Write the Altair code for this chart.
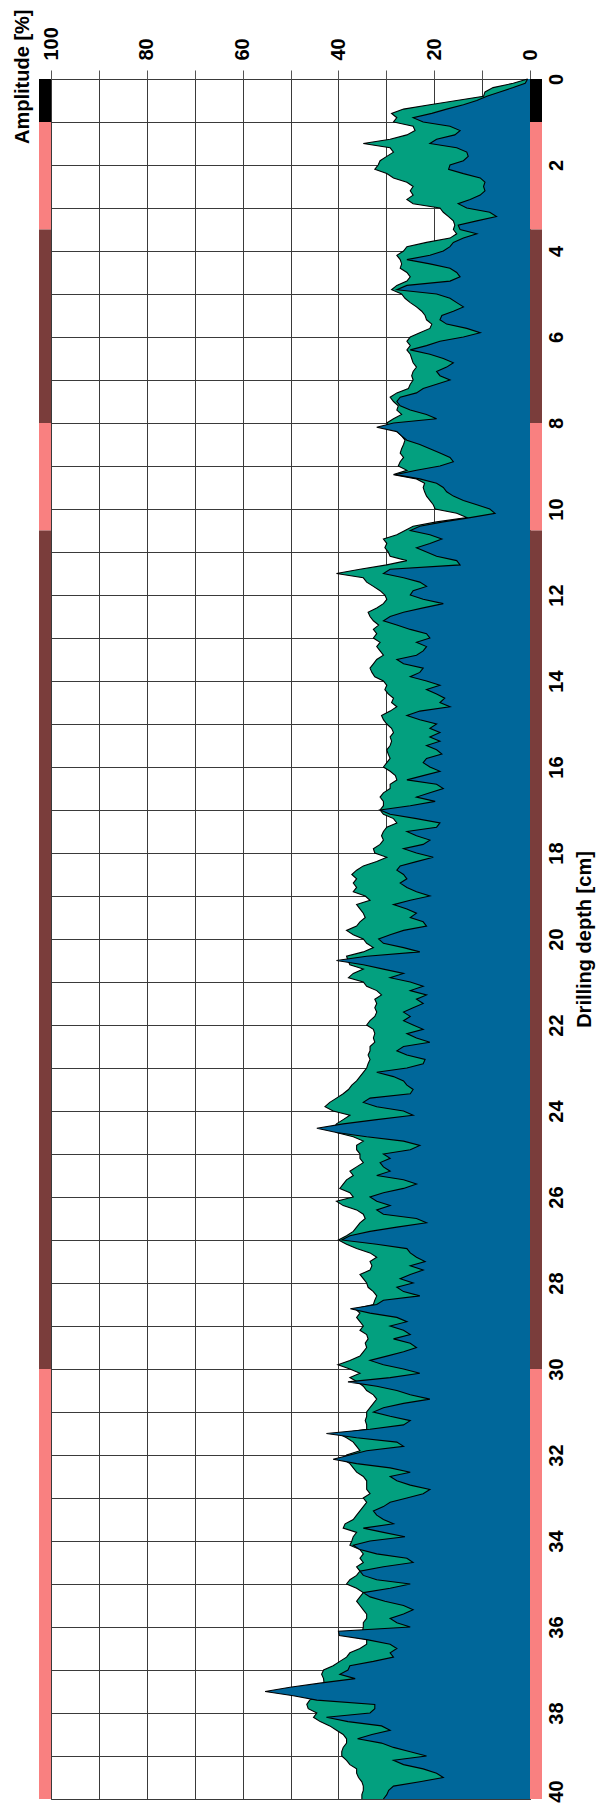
import altair as alt
import pandas as pd

# Amplitude [%] sampled every 0.1 cm of drilling depth (0.0 ... 40.0)
green_amp = [
    0.5, 3.5, 7.7, 9.4, 9.7, 15.3, 20.9, 26.4, 28.9, 27.8,
    28.5, 24.4, 24.0, 25.7, 29.2, 34.8, 29.2, 28.5, 29.9, 31.3,
    31.7, 32.4, 29.9, 28.5, 25.7, 24.4, 25.0, 24.4, 25.7, 24.4,
    18.8, 18.1, 17.0, 16.0, 15.7, 16.0, 15.3, 16.7, 21.6, 25.7,
    26.4, 27.8, 27.1, 26.8, 27.1, 25.7, 25.0, 25.7, 27.8, 28.9,
    26.8, 26.1, 25.0, 23.7, 22.6, 21.9, 21.6, 20.5, 20.9, 23.0,
    25.0, 25.7, 25.0, 25.7, 25.0, 24.7, 24.4, 23.7, 24.4, 24.7,
    24.4, 25.0, 25.4, 27.8, 29.2, 28.5, 27.5, 27.8, 26.8, 28.5,
    29.9, 29.2, 27.8, 26.8, 26.1, 26.4, 26.8, 27.1, 26.4, 27.1,
    27.5, 25.7, 28.5, 23.7, 22.0, 22.3, 22.0, 21.6, 20.9, 20.2,
    19.8, 15.3, 13.2, 19.5, 24.4, 26.1, 27.8, 30.6, 29.9, 30.3,
    29.6, 29.2, 25.7, 29.9, 35.5, 40.4, 34.8, 34.1, 32.7, 31.3,
    30.3, 29.9, 30.6, 32.0, 33.8, 33.4, 32.7, 31.6, 32.7, 32.0,
    32.7, 31.3, 32.0, 31.3, 30.6, 32.0, 32.7, 33.4, 33.0, 32.4,
    30.6, 29.9, 30.3, 29.6, 28.5, 28.9, 27.8, 29.2, 31.0, 30.6,
    29.9, 28.9, 28.5, 29.2, 28.9, 29.2, 29.9, 29.6, 29.2, 29.9,
    30.6, 29.2, 28.1, 27.8, 29.2, 29.2, 30.6, 31.3, 30.6, 30.6,
    31.3, 30.6, 28.5, 27.8, 29.9, 30.6, 31.0, 30.6, 31.3, 32.7,
    32.4, 29.9, 32.0, 34.8, 36.2, 37.2, 36.2, 36.9, 36.2, 36.9,
    34.4, 33.4, 36.2, 35.5, 34.8, 34.4, 35.5, 36.2, 38.3, 36.9,
    34.8, 34.1, 32.7, 34.8, 38.3, 38.0, 37.6, 34.8, 36.9, 37.9,
    34.8, 34.1, 32.0, 31.0, 32.4, 32.0, 32.4, 32.0, 32.4, 33.4,
    34.1, 32.7, 32.4, 32.7, 32.4, 33.4, 33.4, 33.8, 33.4, 33.8,
    34.1, 34.8, 35.5, 36.2, 37.2, 37.9, 39.0, 40.4, 41.8, 42.8,
    41.1, 37.6, 39.0, 40.4, 41.0, 40.4, 36.9, 34.8, 36.2, 36.2,
    35.5, 35.5, 34.8, 36.2, 37.6, 36.9, 38.3, 39.0, 39.7, 37.6,
    36.9, 40.4, 39.0, 36.2, 34.8, 34.4, 35.5, 36.2, 36.9, 38.3,
    40.0, 38.3, 36.2, 33.4, 32.0, 33.4, 33.0, 33.4, 35.5, 34.8,
    34.1, 33.8, 32.7, 32.0, 32.4, 32.7, 36.5, 35.5, 36.2, 35.5,
    34.8, 35.5, 34.1, 33.8, 34.4, 34.1, 34.8, 35.5, 37.6, 40.1,
    37.6, 35.5, 37.6, 36.0, 34.8, 34.1, 32.7, 32.0, 32.7, 33.4,
    34.1, 34.1, 34.4, 34.1, 34.1, 40.0, 38.3, 36.9, 36.2, 35.5,
    38.3, 39.0, 37.6, 36.9, 36.2, 34.8, 34.1, 34.1, 34.1, 33.4,
    34.8, 34.1, 34.8, 35.5, 36.2, 36.9, 38.6, 39.0, 36.2, 36.9,
    37.2, 37.6, 35.5, 34.8, 35.5, 34.8, 36.2, 35.5, 36.2, 37.6,
    38.3, 36.2, 34.8, 35.5, 36.2, 35.5, 34.8, 34.1, 34.1, 34.8,
    34.8, 35.0, 35.0, 34.1, 34.1, 35.5, 37.6, 38.3, 39.7, 41.1,
    43.1, 43.5, 43.1, 43.0, 43.0, 43.0, 44.0, 46.0, 46.6, 46.3,
    44.5, 45.2, 43.8, 41.8, 40.4, 39.0, 38.3, 38.3, 39.0, 39.3,
    39.3, 38.3, 37.6, 36.2, 36.2, 35.8, 35.1, 34.8, 34.8, 35.1,
    35.1,
]

blue_amp = [
    0.5, 1.0, 3.5, 6.3, 9.0, 11.1, 13.9, 17.4, 20.5, 24.4,
    22.3, 16.7, 14.6, 15.7, 19.5, 20.9, 15.3, 13.2, 12.9, 13.9,
    16.7, 17.0, 13.9, 10.4, 9.4, 9.7, 9.4, 10.4, 12.5, 15.0,
    13.2, 8.4, 7.0, 11.1, 15.0, 14.6, 11.1, 13.9, 16.0, 16.7,
    18.1, 20.9, 25.7, 20.9, 16.7, 15.3, 14.6, 16.7, 25.7, 27.8,
    19.5, 16.7, 15.3, 13.9, 16.0, 18.4, 18.8, 17.4, 13.2, 10.4,
    13.9, 18.8, 21.6, 25.0, 20.9, 18.1, 16.0, 17.4, 19.5, 18.8,
    16.7, 19.5, 22.3, 23.7, 27.1, 27.8, 27.1, 25.0, 21.6, 19.5,
    28.5, 32.0, 27.8, 26.8, 25.7, 23.0, 20.9, 18.8, 16.7, 16.0,
    18.8, 23.7, 28.1, 23.0, 19.5, 18.1, 17.4, 16.0, 13.9, 11.1,
    8.4, 7.3, 12.5, 18.1, 23.0, 25.0, 20.9, 18.4, 20.9, 23.7,
    21.6, 19.5, 15.3, 14.6, 29.2, 30.6, 26.4, 23.0, 21.6, 24.4,
    25.0, 22.3, 18.1, 22.3, 26.4, 29.2, 30.6, 27.8, 25.0, 21.6,
    20.9, 23.7, 21.6, 22.3, 23.7, 27.8, 26.4, 22.3, 23.0, 25.0,
    21.6, 18.8, 21.6, 19.5, 17.8, 18.8, 16.7, 23.0, 25.7, 23.0,
    19.5, 20.9, 18.8, 20.9, 18.8, 21.6, 19.5, 18.4, 21.6, 22.3,
    20.9, 18.8, 22.3, 25.7, 19.5, 18.1, 20.9, 23.7, 19.8, 25.0,
    31.3, 29.2, 23.7, 18.8, 19.5, 25.7, 23.7, 20.9, 22.3, 26.4,
    23.7, 20.2, 23.7, 27.1, 27.8, 26.4, 25.7, 27.1, 25.7, 23.7,
    20.9, 25.0, 28.5, 25.7, 23.7, 25.0, 22.3, 21.6, 26.4, 29.2,
    31.6, 30.6, 26.4, 23.0, 34.1, 40.4, 34.8, 30.6, 26.4, 29.2,
    25.0, 22.3, 25.0, 21.6, 23.7, 22.3, 24.4, 26.4, 25.0, 26.4,
    24.4, 22.3, 25.7, 23.7, 20.9, 26.4, 27.8, 25.7, 21.9, 22.3,
    25.7, 32.0, 28.5, 26.4, 25.7, 24.4, 25.0, 33.4, 34.8, 32.0,
    26.4, 24.4, 32.0, 39.0, 44.5, 40.4, 34.1, 26.4, 23.0, 25.0,
    30.6, 29.2, 31.3, 30.6, 29.2, 32.0, 26.4, 23.7, 26.4, 30.6,
    33.4, 32.0, 29.2, 32.0, 30.6, 23.7, 21.6, 27.8, 33.4, 37.6,
    39.3, 32.0, 25.7, 25.0, 23.7, 21.9, 25.0, 22.3, 25.0, 27.1,
    24.4, 27.8, 26.4, 23.0, 30.6, 32.0, 37.5, 33.4, 27.8, 25.7,
    29.2, 26.4, 25.0, 28.5, 25.0, 23.7, 26.4, 29.9, 33.4, 30.6,
    26.4, 23.0, 29.2, 38.0, 32.0, 27.8, 25.0, 20.9, 26.4, 30.6,
    32.7, 29.2, 25.0, 26.4, 33.4, 42.5, 36.2, 27.8, 26.4, 34.1,
    37.6, 41.1, 36.2, 29.2, 25.0, 29.2, 27.8, 25.0, 20.9, 22.3,
    25.7, 29.2, 30.6, 32.7, 32.0, 30.6, 28.5, 34.8, 30.6, 26.1,
    33.4, 36.9, 35.5, 32.0, 25.7, 24.4, 30.6, 35.5, 34.8, 32.0,
    25.0, 29.2, 34.8, 33.4, 30.3, 26.4, 24.4, 26.4, 29.2, 27.8,
    25.0, 40.0, 39.8, 33.8, 29.2, 27.8, 29.2, 28.5, 32.7, 37.6,
    38.0, 39.7, 36.5, 43.5, 50.1, 55.3, 49.4, 44.5, 32.4, 32.4,
    33.4, 42.5, 38.0, 31.0, 29.2, 33.0, 36.0, 31.0, 28.5, 25.0,
    21.6, 28.5, 26.4, 22.3, 19.5, 18.1, 23.0, 28.5, 29.5, 29.9,
    30.6,
]

# depth sampling grid in cm (one sample per 0.1 cm)
depth_cm = [round(i * 0.1, 1) for i in range(len(green_amp))]

# colour strips along both sides of the plot
seg_start = [0, 1, 3.5, 8, 10.5, 30]
seg_end = [1, 3.5, 8, 10.5, 30, 40]
seg_class = ["black", "pink", "brown", "pink", "brown", "pink"]
class_names = ["black", "pink", "brown"]
class_colors = ["#000000", "#F98080", "#7A3D3B"]

amp_ticks = list(range(0, 101, 10))
depth_ticks = list(range(0, 41))

GREEN = "#03A07F"
BLUE = "#00679A"
FONT = "Liberation Sans"

rows = []
for d, g, b in zip(depth_cm, green_amp, blue_amp):
    rows.append({"depth": d, "amp": g, "series": "green"})
    rows.append({"depth": d, "amp": b, "series": "blue"})
df = pd.DataFrame(rows)
seg = pd.DataFrame({"start": seg_start, "end": seg_end, "cls": seg_class})

W, H = 479, 1720
xscale = alt.Scale(domain=[0, 100], reverse=True, nice=False)
yscale = alt.Scale(domain=[0, 40], reverse=True, nice=False)

xaxis = alt.Axis(
    orient="top", values=amp_ticks,
    labelExpr="datum.value % 20 == 0 ? datum.label : ''",
    labelAngle=270, labelAlign="left", labelBaseline="middle",
    labelFont=FONT, labelFontWeight="bold", labelFontSize=20, labelColor="black",
    labelPadding=10, labelFlush=False, labelOverlap=False, labelBound=False,
    ticks=True, tickSize=9, tickColor="#555555", tickWidth=1,
    domain=False, grid=True, gridColor="#3a3a3a", gridWidth=1, gridOpacity=1,
    title="Amplitude [%]", titleFont=FONT, titleFontWeight="bold", titleFontSize=20,
    titleColor="black", titleAngle=270, titleAlign="right", titleBaseline="middle",
    titleX=-29, titleY=-70,
)
yaxis = alt.Axis(
    orient="right", values=depth_ticks,
    labelExpr="datum.value % 2 == 0 ? datum.label : ''",
    labelAngle=270, labelAlign="center", labelBaseline="top",
    labelFont=FONT, labelFontWeight="bold", labelFontSize=20, labelColor="black",
    labelPadding=16, labelFlush=False, labelOverlap=False, labelBound=False,
    labelOffset={"condition": {"test": "datum.value == 40", "value": -8}, "value": 0},
    ticks=False, tickSize=0, domain=False,
    grid=True, gridColor="#3a3a3a", gridWidth=1, gridOpacity=1,
    title="Drilling depth [cm]", titleFont=FONT, titleFontWeight="bold", titleFontSize=20,
    titleColor="black", titleAngle=270, titleAlign="center", titleBaseline="top",
    titlePadding=8,
)

X = alt.X("amp:Q", scale=xscale, axis=xaxis)
Y = alt.Y("depth:Q", scale=yscale, axis=yaxis)

base = alt.Chart(df)

green_area = base.transform_filter(alt.datum.series == "green").mark_area(
    orient="horizontal", color=GREEN, interpolate="linear"
).encode(x=X, y=Y)
green_line = base.transform_filter(alt.datum.series == "green").mark_line(
    color="black", strokeWidth=1.1, interpolate="linear"
).encode(x=X, y=Y, order=alt.Order("depth:Q"))
blue_area = base.transform_filter(alt.datum.series == "blue").mark_area(
    orient="horizontal", color=BLUE, interpolate="linear"
).encode(x=X, y=Y)
blue_line = base.transform_filter(alt.datum.series == "blue").mark_line(
    color="black", strokeWidth=1.1, interpolate="linear"
).encode(x=X, y=Y, order=alt.Order("depth:Q"))

strip_color = alt.Color("cls:N", scale=alt.Scale(domain=class_names, range=class_colors), legend=None)
left_strip = alt.Chart(seg).mark_rect().encode(
    y=alt.Y("start:Q", scale=yscale, axis=yaxis),
    y2="end:Q",
    x=alt.value(-12), x2=alt.value(0),
    color=strip_color,
)
right_strip = alt.Chart(seg).mark_rect().encode(
    y=alt.Y("start:Q", scale=yscale, axis=yaxis),
    y2="end:Q",
    x=alt.value(W), x2=alt.value(W + 12),
    color=strip_color,
)

chart = alt.layer(
    green_area, green_line, blue_area, blue_line, left_strip, right_strip
).properties(
    width=W, height=H,
    autosize=alt.AutoSizeParams(type="none"),
    padding={"left": 43, "top": 71, "right": 68, "bottom": 4},
    background="white",
).configure_view(stroke="#555555", strokeWidth=1)

chart.save("out.html", embed_options={"renderer": "svg", "actions": False})
